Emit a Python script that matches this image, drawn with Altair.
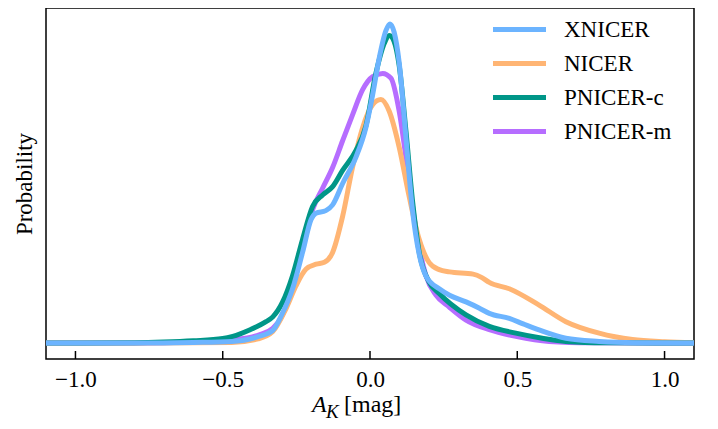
import altair as alt
import pandas as pd

FONT = "Liberation Serif"

series_names = ["XNICER", "NICER", "PNICER-c", "PNICER-m"]
series_colors = ["#6cb4ff", "#ffb574", "#009688", "#b66dff"]

xnicer_x = [-1.1, -0.8, -0.6, -0.47, -0.38, -0.33, -0.30, -0.263, -0.229, -0.20, -0.184, -0.15, -0.127,
            -0.093, -0.048, -0.014, 0.009, 0.031, 0.054, 0.068, 0.082, 0.099, 0.122, 0.144, 0.167, 0.19,
            0.235, 0.27, 0.326, 0.37, 0.405, 0.473, 0.52, 0.574, 0.665, 0.778, 0.9, 1.1]
xnicer_y = [0, 0, 0.002, 0.005, 0.02, 0.04, 0.088, 0.17, 0.284, 0.387, 0.407, 0.415, 0.433,
            0.5, 0.582, 0.675, 0.778, 0.892, 0.979, 1.0, 0.974, 0.88, 0.644, 0.418, 0.278, 0.21,
            0.17, 0.15, 0.129, 0.11, 0.093, 0.077, 0.06, 0.041, 0.015, 0.005, 0.001, 0]

nicer_x = [-1.1, -0.8, -0.6, -0.47, -0.38, -0.33, -0.285, -0.251, -0.217, -0.183, -0.155, -0.127,
           -0.093, -0.059, -0.025, 0.009, 0.037, 0.065, 0.099, 0.133, 0.167, 0.201, 0.235, 0.27,
           0.35, 0.38, 0.405, 0.473, 0.574, 0.665, 0.778, 0.891, 1.0, 1.1]
nicer_y = [0, 0, 0.001, 0.002, 0.013, 0.036, 0.108, 0.18, 0.232, 0.247, 0.253, 0.284,
           0.397, 0.552, 0.675, 0.747, 0.763, 0.727, 0.614, 0.459, 0.325, 0.252, 0.23, 0.223,
           0.216, 0.205, 0.19, 0.17, 0.119, 0.067, 0.031, 0.011, 0.004, 0.001]

pnicer_c_x = [-1.1, -0.8, -0.7, -0.6, -0.5, -0.466, -0.409, -0.353, -0.33, -0.297, -0.263, -0.229,
              -0.195, -0.161, -0.127, -0.093, -0.048, -0.014, 0.020, 0.049, 0.066, 0.082, 0.099,
              0.122, 0.145, 0.167, 0.201, 0.235, 0.326, 0.405, 0.495, 0.585, 0.665, 0.8, 1.1]
pnicer_c_y = [0, 0.001, 0.003, 0.007, 0.014, 0.021, 0.041, 0.067, 0.082, 0.128, 0.211, 0.325,
              0.428, 0.464, 0.49, 0.541, 0.603, 0.68, 0.845, 0.94, 0.964, 0.945, 0.87,
              0.665, 0.44, 0.285, 0.191, 0.155, 0.088, 0.052, 0.031, 0.015, 0.005, 0.001, 0]

pnicer_m_x = [-1.1, -0.8, -0.6, -0.466, -0.376, -0.33, -0.297, -0.263, -0.229, -0.195, -0.161, -0.127,
              -0.093, -0.059, -0.025, 0.009, 0.043, 0.071, 0.099, 0.128, 0.156, 0.19, 0.224, 0.269,
              0.326, 0.405, 0.495, 0.608, 0.75, 1.1]
pnicer_m_y = [0, 0, 0.003, 0.01, 0.026, 0.046, 0.088, 0.18, 0.294, 0.418, 0.485, 0.55,
              0.634, 0.716, 0.794, 0.835, 0.845, 0.83, 0.727, 0.541, 0.356, 0.211, 0.15, 0.113,
              0.072, 0.042, 0.021, 0.005, 0.001, 0]

tick_values = [-1.0, -0.5, 0.0, 0.5, 1.0]

curves = {
    "XNICER": (xnicer_x, xnicer_y),
    "NICER": (nicer_x, nicer_y),
    "PNICER-c": (pnicer_c_x, pnicer_c_y),
    "PNICER-m": (pnicer_m_x, pnicer_m_y),
}
draw_order = ["PNICER-m", "NICER", "PNICER-c", "XNICER"]
rows = []
for name in draw_order:
    xs, ys = curves[name]
    for a, b in zip(xs, ys):
        rows.append({"series": name, "AK": a, "p": b})
df = pd.DataFrame(rows)

W, H = 648, 351

x_scale = alt.Scale(domain=[-1.1, 1.1], nice=False, zero=False)
y_scale = alt.Scale(domain=[-0.05, 1.05], nice=False, zero=False)

lines = alt.Chart(df).mark_line(
    strokeWidth=5, interpolate="monotone", clip=True, strokeJoin="round"
).encode(
    x=alt.X("AK:Q", scale=x_scale,
            axis=alt.Axis(values=tick_values, format=".1f", title=None, ticks=False,
                          domain=False, grid=False, labelFont=FONT, labelFontSize=23,
                          labelColor="black", labelPadding=9)),
    y=alt.Y("p:Q", scale=y_scale,
            axis=alt.Axis(title="Probability", labels=False, ticks=False, domain=False,
                          grid=False, titleFont=FONT, titleFontSize=23,
                          titleFontWeight="normal", titleColor="black", titlePadding=10)),
    color=alt.Color("series:N", scale=alt.Scale(domain=series_names, range=series_colors),
                    legend=alt.Legend(title=None, orient="none", legendX=461, legendY=9,
                                      symbolType="M-2.65,0L2.65,0", symbolSize=400,
                                      symbolStrokeWidth=5, labelFont=FONT,
                                      labelFontSize=23, labelColor="black",
                                      labelOffset=32, rowPadding=9)),
)

ticks = alt.Chart(pd.DataFrame({"AK": tick_values})).mark_rule(
    color="black", strokeWidth=1.5
).encode(
    x=alt.X("AK:Q", scale=x_scale),
    y=alt.value(H),
    y2=alt.value(H - 8),
)

t_a = alt.Chart(pd.DataFrame({"t": ["A"]})).mark_text(
    font=FONT, fontSize=24, fontStyle="italic", align="left", baseline="alphabetic", color="black"
).encode(text="t:N", x=alt.value(266), y=alt.value(404))

t_k = alt.Chart(pd.DataFrame({"t": ["K"]})).mark_text(
    font=FONT, fontSize=19, fontStyle="italic", align="left", baseline="alphabetic", color="black"
).encode(text="t:N", x=alt.value(280), y=alt.value(410))

t_mag = alt.Chart(pd.DataFrame({"t": ["[mag]"]})).mark_text(
    font=FONT, fontSize=24, align="left", baseline="alphabetic", color="black"
).encode(text="t:N", x=alt.value(298), y=alt.value(404))

chart = alt.layer(lines, ticks, t_a, t_k, t_mag).properties(
    width=W, height=H,
    autosize=alt.AutoSizeParams(type="none"),
    padding={"left": 38, "top": 0, "right": 10, "bottom": 62},
    background="white",
).configure_view(stroke="black", strokeWidth=1.5)

chart.save("out.html", embed_options={"renderer": "svg", "actions": False})
